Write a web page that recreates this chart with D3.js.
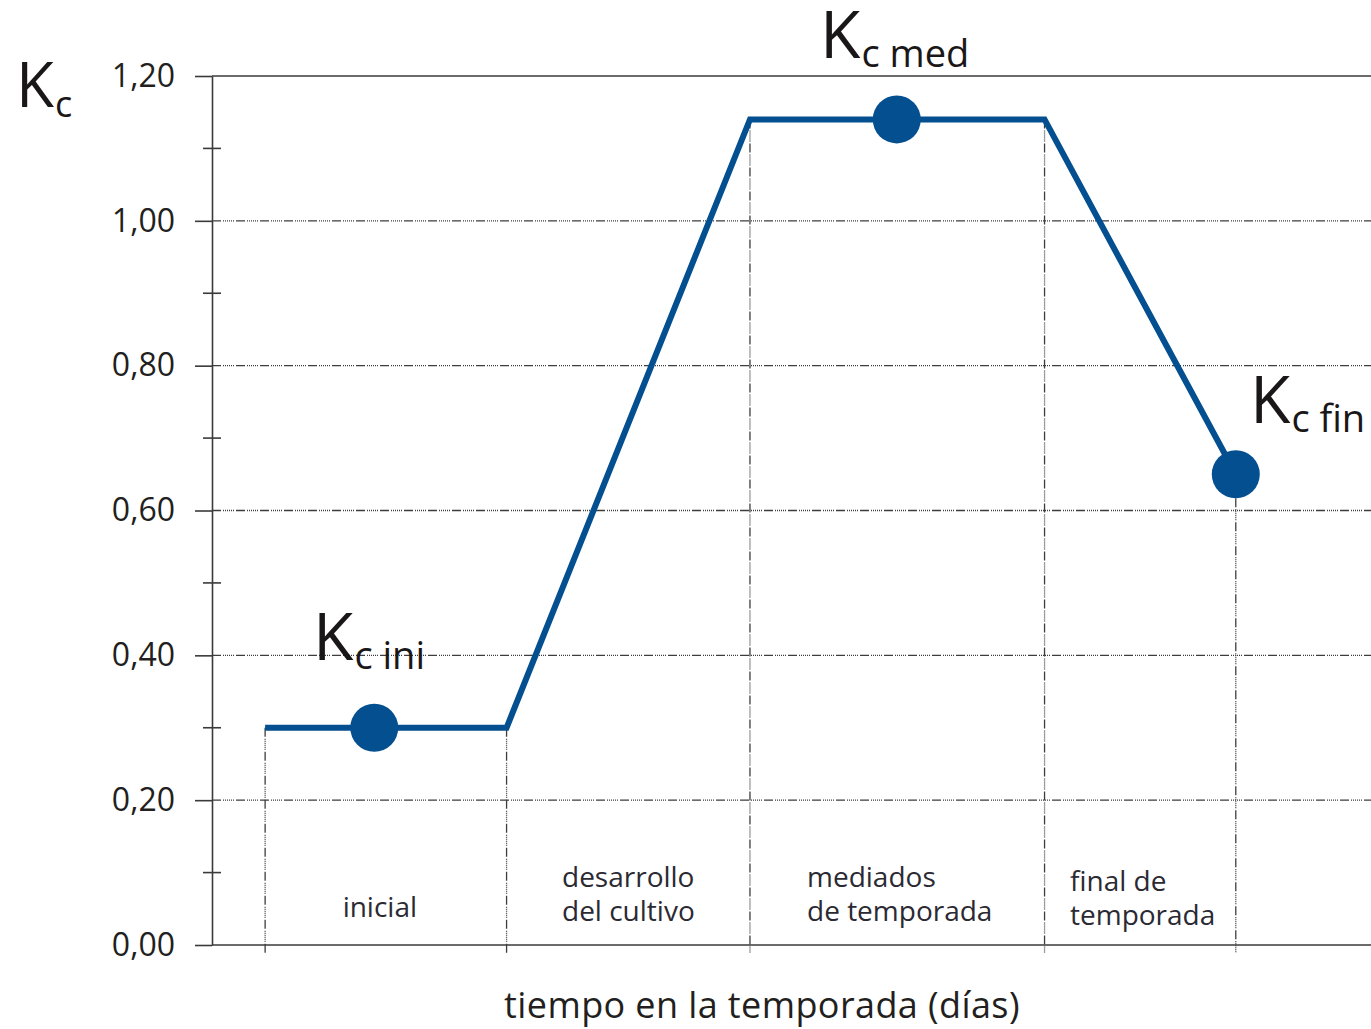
<!DOCTYPE html>
<html>
<head>
<meta charset="utf-8">
<script src="https://cdn.jsdelivr.net/npm/d3@7"></script>
<style>
  body { margin: 0; background: #fff; }
  svg text { font-family: "Open Sans", "Noto Sans", sans-serif; }
</style>
</head>
<body>
<svg id="chart"></svg>
<script>
// curve of Kc over the season (days are read off the picture, approx.)
var curveDays = [5.5, 30.5, 55.7, 86.2, 106];
var curveKc = [0.30, 0.30, 1.14, 1.14, 0.65];

// marked points
var pointDays = [16.8, 70.9, 106];
var pointKc = [0.30, 1.14, 0.65];
var pointSubs = ["c ini", "c med", "c fin"];

// stage boundaries and labels
var stageBounds = [5.5, 30.5, 55.7, 86.2, 106];
var stageLabels = [["inicial"], ["desarrollo", "del cultivo"], ["mediados", "de temporada"], ["final de", "temporada"]];

var yTicks = [0, 0.2, 0.4, 0.6, 0.8, 1.0, 1.2];
var yMinor = [0.1, 0.3, 0.5, 0.7, 0.9, 1.1];

var width = 1371;
var height = 1029;

var svg = d3.select("#chart").attr("width", width).attr("height", height);

var xScale = d3.scaleLinear().domain([0, 120]).range([212, 1371]);
var yScale = d3.scaleLinear().domain([0, 1.2]).range([945, 76]);

var locale = d3.formatLocale({ decimal: ",", thousands: ".", grouping: [3], currency: ["", "€"] });
var fmt = locale.format(".2f");

var dashes = "9,2,1,1,1,1,1,1,1,1,1,1,1,2";

/* horizontal gridlines */
svg.append("g")
  .selectAll("line")
  .data(yTicks.filter((d) => d > 0 && d < 1.2))
  .enter()
  .append("line")
  .attr("x1", 212)
  .attr("x2", width)
  .attr("y1", (d) => yScale(d))
  .attr("y2", (d) => yScale(d))
  .attr("stroke", "#3d3d3d")
  .attr("stroke-width", 1.3)
  .attr("stroke-dasharray", dashes);

/* top and bottom solid lines */
svg.append("g")
  .selectAll("line")
  .data([0, 1.2])
  .enter()
  .append("line")
  .attr("x1", 212)
  .attr("x2", width)
  .attr("y1", (d) => yScale(d))
  .attr("y2", (d) => yScale(d))
  .attr("stroke", "#3a3a3a")
  .attr("stroke-width", 1.6);

/* vertical stage lines */
svg.append("g")
  .selectAll("line")
  .data(stageBounds)
  .enter()
  .append("line")
  .attr("x1", (d) => xScale(d))
  .attr("x2", (d) => xScale(d))
  .attr("y1", (d, i) => yScale(curveKc[i]))
  .attr("y2", 953)
  .attr("stroke", "#3d3d3d")
  .attr("stroke-width", 1.3)
  .attr("stroke-dasharray", dashes);

/* y axis */
var yAxis = d3.axisLeft(yScale)
  .tickValues(yTicks)
  .tickFormat(fmt)
  .tickSizeInner(17)
  .tickSizeOuter(0)
  .tickPadding(20);

var gy = svg.append("g")
  .attr("transform", "translate(212,0)")
  .call(yAxis);
gy.select(".domain").attr("stroke", "#3a3a3a").attr("stroke-width", 1.6);
gy.selectAll(".tick line").attr("stroke", "#3a3a3a").attr("stroke-width", 1.6);
gy.selectAll(".tick text")
  .attr("font-size", 32)
  .attr("fill", "#231f20")
  .style("font-family", '"Open Sans", sans-serif');

/* minor ticks crossing the axis */
svg.append("g")
  .selectAll("line")
  .data(yMinor)
  .enter()
  .append("line")
  .attr("x1", 203)
  .attr("x2", 221)
  .attr("y1", (d) => yScale(d))
  .attr("y2", (d) => yScale(d))
  .attr("stroke", "#3a3a3a")
  .attr("stroke-width", 1.6);

/* curve */
var line = d3.line()
  .x((d) => xScale(d[0]))
  .y((d) => yScale(d[1]));

svg.append("path")
  .datum(d3.zip(curveDays, curveKc))
  .attr("d", line)
  .attr("fill", "none")
  .attr("stroke", "#034f90")
  .attr("stroke-width", 6)
  .attr("stroke-linejoin", "miter");

/* points */
svg.append("g")
  .selectAll("circle")
  .data(d3.zip(pointDays, pointKc))
  .enter()
  .append("circle")
  .attr("cx", (d) => xScale(d[0]))
  .attr("cy", (d) => yScale(d[1]))
  .attr("r", 24)
  .attr("fill", "#034f90");

/* Kc labels: K + subscript */
var kcLabel = (x, y, sub, bigSize, subSize, subDy) => {
  var t = svg.append("text")
    .attr("x", x)
    .attr("y", y)
    .attr("fill", "#1a1718");
  t.append("tspan").attr("font-size", bigSize).text("K");
  t.append("tspan")
    .attr("font-size", subSize)
    .attr("dy", subDy)
    .attr("dx", 1)
    .text(sub);
};

var labelPos = [[313, 660], [820, 58], [1250, 423]];
pointSubs.forEach((s, i) => {
  kcLabel(labelPos[i][0], labelPos[i][1], s, 66, 38, 9);
});
kcLabel(16, 107, "c", 62, 36, 10);

/* stage labels */
var stageText = svg.append("g").attr("fill", "#2b2a33").attr("font-size", 28);
stageText.append("text")
  .attr("x", (xScale(stageBounds[0]) + xScale(stageBounds[1])) / 2 - 6)
  .attr("y", 917)
  .attr("text-anchor", "middle")
  .text(stageLabels[0][0]);

var stageLeft = [562, 807, 1070];
var stageBase = [887, 887, 891];
[1, 2, 3].forEach((k, i) => {
  var t = stageText.append("text")
    .attr("x", stageLeft[i])
    .attr("y", stageBase[i]);
  stageLabels[k].forEach((s, j) => {
    t.append("tspan")
      .attr("x", stageLeft[i])
      .attr("dy", j === 0 ? 0 : 34)
      .text(s);
  });
});

/* x axis title */
svg.append("text")
  .attr("x", 762)
  .attr("y", 1018)
  .attr("text-anchor", "middle")
  .attr("font-size", 36)
  .attr("letter-spacing", 0.4)
  .attr("fill", "#231f20")
  .text("tiempo en la temporada (días)");
</script>
</body>
</html>
